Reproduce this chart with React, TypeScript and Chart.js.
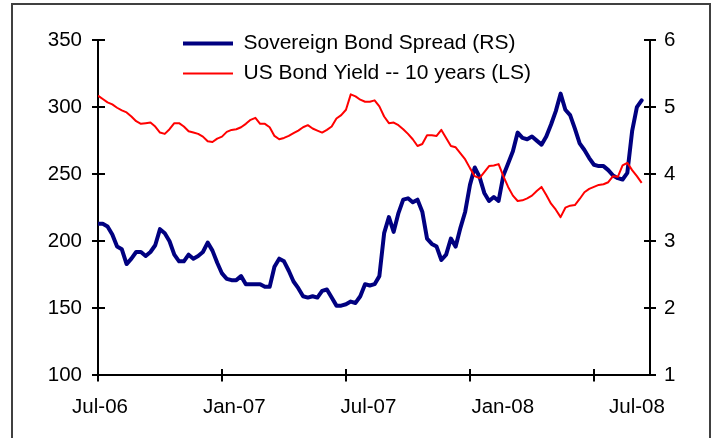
import React, { useEffect, useRef } from "react";
import { Chart, registerables } from "chart.js";

Chart.register(...registerables);

// ---- data (weekly observations, week 0 = early Jul-2006) ----
const xTickLabels = ["Jul-06", "Jan-07", "Jul-07", "Jan-08", "Jul-08"];
const tickWeeks = [0, 26, 52, 78, 104];

const spreadLabel = "Sovereign Bond Spread (RS)";
const yieldLabel = "US Bond Yield -- 10 years (LS)";

const spread = [
  213, 213, 211, 205, 196, 194, 183, 187, 192, 192,
  189, 192, 197, 209, 206, 200, 190, 185, 185, 190,
  187, 189, 192, 199, 193, 184, 176, 172, 171, 171,
  174, 168, 168, 168, 168, 166, 166, 181, 187, 185,
  178, 170, 165, 159, 158, 159, 158, 163, 164, 158,
  152, 152, 153, 155, 154, 159, 168, 167, 168, 174,
  206, 218, 207, 221, 231, 232, 229, 231, 222, 202,
  198, 196, 186, 190, 202, 196, 210, 222, 242, 255,
  248, 236, 230, 233, 230, 249, 258, 267, 281, 277,
  276, 278, 275, 272, 278, 287, 297, 310, 298, 294,
  284, 273, 268, 262, 257, 256, 256, 253, 249, 247,
  246, 251, 282, 300, 305,
];

const usYield = [
  5.17, 5.12, 5.07, 5.04, 4.99, 4.95, 4.92, 4.86, 4.79, 4.75,
  4.76, 4.77, 4.71, 4.62, 4.6, 4.67, 4.76, 4.76, 4.71, 4.64,
  4.62, 4.6, 4.56, 4.49, 4.48, 4.53, 4.56, 4.63, 4.66, 4.67,
  4.7, 4.75, 4.81, 4.84, 4.75, 4.75, 4.7, 4.57, 4.52, 4.54,
  4.57, 4.61, 4.65, 4.7, 4.73, 4.68, 4.65, 4.62, 4.66, 4.71,
  4.83, 4.88, 4.96, 5.19, 5.16, 5.11, 5.08, 5.08, 5.1, 5.01,
  4.86, 4.76, 4.77, 4.73, 4.67, 4.6, 4.52, 4.42, 4.45, 4.58,
  4.58, 4.57, 4.66, 4.54, 4.42, 4.4, 4.31, 4.22, 4.09, 3.97,
  3.94, 4.03, 4.12, 4.13, 4.15, 3.97, 3.81, 3.68, 3.6, 3.61,
  3.64, 3.68, 3.75, 3.81, 3.69, 3.56, 3.47, 3.36, 3.5, 3.53,
  3.54, 3.63, 3.73, 3.78, 3.81, 3.84, 3.85, 3.88, 3.97, 3.96,
  4.13, 4.17, 4.06, 3.97, 3.87,
];

const FONT = "'Liberation Sans', Arial, Helvetica, sans-serif";

const legendPlacement = {
  id: "legendPlacement",
  afterLayout(chart: any) {
    const lg = chart.legend;
    if (!lg) return;
    const area = chart.chartArea;
    lg.left = area.left + 76;
    lg.top = area.top - 16;
    lg.right = area.right;
    lg.bottom = area.bottom;
  },
};

export default function App() {
  const canvasRef = useRef<HTMLCanvasElement | null>(null);

  useEffect(() => {
    if (!canvasRef.current) return;
    const tickFont = { family: FONT, size: 20.5 };
    const chart = new Chart(canvasRef.current, {
      type: "line",
      data: {
        datasets: [
          {
            label: spreadLabel,
            data: spread.map((v, i) => ({ x: i, y: v })),
            xAxisID: "x",
            yAxisID: "y",
            borderColor: "#000080",
            backgroundColor: "#000080",
            borderWidth: 4,
            pointBorderWidth: 4,
            pointBorderColor: "#000080",
            pointRadius: 0,
            pointHoverRadius: 0,
            tension: 0,
            borderJoinStyle: "round",
            borderCapStyle: "round",
            fill: false,
            order: 1,
          },
          {
            label: yieldLabel,
            data: usYield.map((v, i) => ({ x: i, y: v })),
            xAxisID: "x",
            yAxisID: "y1",
            borderColor: "#ff0000",
            backgroundColor: "#ff0000",
            borderWidth: 2,
            pointBorderWidth: 2,
            pointBorderColor: "#ff0000",
            pointRadius: 0,
            pointHoverRadius: 0,
            tension: 0,
            borderJoinStyle: "round",
            fill: false,
            order: 0,
          },
        ],
      },
      options: {
        responsive: false,
        animation: false,
        events: [],
        layout: { padding: { left: 0, right: 0, top: 40, bottom: 4 } },
        plugins: {
          legend: {
            position: "chartArea" as any,
            align: "start",
            labels: {
              usePointStyle: true,
              pointStyle: "line",
              pointStyleWidth: 50,
              padding: 9,
              color: "#000",
              font: { family: FONT, size: 21 },
              sort: (a: any, b: any) => a.datasetIndex - b.datasetIndex,
            },
          },
          tooltip: { enabled: false },
        },
        scales: {
          x: {
            type: "linear",
            position: "bottom",
            min: 0,
            max: 115.75,
            weight: 0,
            afterBuildTicks: (s: any) => {
              s.ticks = tickWeeks.map((v) => ({ value: v }));
            },
            ticks: { display: false },
            grid: {
              display: true,
              drawOnChartArea: true,
              drawTicks: true,
              tickLength: 6,
              color: "#000",
              lineWidth: 2,
              tickColor: "#000",
              tickWidth: 2,
            },
            border: { display: true, color: "#000", width: 2, dash: [0, 329, 6, 1000] },
          },
          xl: {
            type: "linear",
            position: "bottom",
            min: -0.015,
            max: 4.097,
            weight: 1,
            afterBuildTicks: (s: any) => {
              s.ticks = xTickLabels.map((_, i) => ({ value: i }));
            },
            ticks: {
              autoSkip: false,
              maxRotation: 0,
              minRotation: 0,
              padding: 14,
              color: "#000",
              font: tickFont,
              callback: (_v: any, i: number) => xTickLabels[i],
            },
            grid: { display: false, drawTicks: false },
            border: { display: false },
          },
          y: {
            type: "linear",
            position: "left",
            min: 100,
            max: 350,
            afterFit: (s: any) => {
              s.width = 98;
            },
            ticks: { stepSize: 50, padding: 10, color: "#000", font: tickFont },
            grid: {
              color: "#000",
              lineWidth: 2,
              drawTicks: true,
              tickLength: 6,
              tickColor: "#000",
              tickWidth: 2,
            },
            border: { display: true, color: "#000", width: 2, dash: [6, 1000] },
          },
          y1: {
            type: "linear",
            position: "right",
            min: 1,
            max: 6,
            afterFit: (s: any) => {
              s.width = 63;
            },
            ticks: { stepSize: 1, padding: 8, color: "#000", font: tickFont },
            grid: {
              color: "#000",
              lineWidth: 2,
              drawTicks: true,
              tickLength: 6,
              tickColor: "#000",
              tickWidth: 2,
            },
            border: { display: true, color: "#000", width: 2, dash: [0, 546, 6, 1000] },
          },
        },
      } as any,
      plugins: [legendPlacement],
    });
    return () => chart.destroy();
  }, []);

  return (
    <div
      style={{
        position: "fixed",
        left: 0,
        top: 0,
        width: 713,
        height: 438,
        background: "#fff",
        overflow: "hidden",
      }}
    >
      <div
        style={{
          position: "absolute",
          left: 11,
          top: 3,
          width: 696,
          height: 470,
          border: "2px solid #404040",
        }}
      />
      <canvas
        ref={canvasRef}
        width={713}
        height={438}
        style={{ position: "absolute", left: 0, top: 0, width: 713, height: 438 }}
      />
    </div>
  );
}
